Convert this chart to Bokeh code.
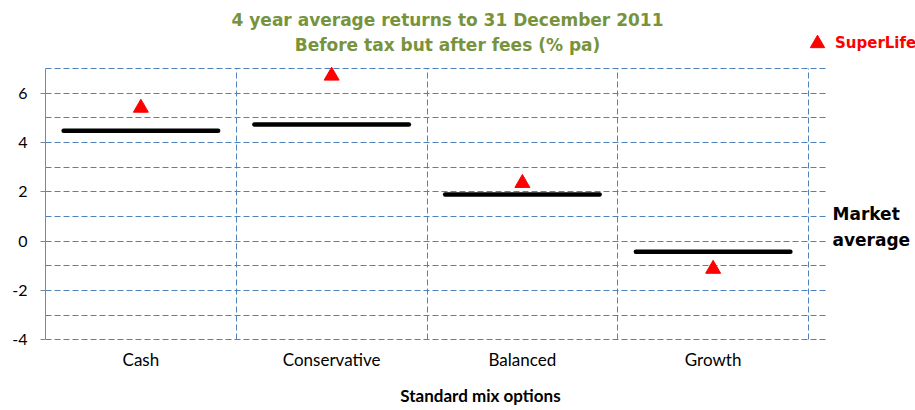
from bokeh.plotting import figure
from bokeh.models import (Range1d, FixedTicker, Legend, LegendItem, Label,
                          ColumnDataSource, Grid, BoxAnnotation)
from bokeh.embed import file_html
from bokeh.resources import INLINE

# ---- data ----
categories = ["Cash", "Conservative", "Balanced", "Growth"]
market_average = [4.47, 4.73, 1.89, -0.43]
superlife = [5.4, 6.7, 2.35, -1.13]
y_tick_values = [-4, -2, 0, 2, 4, 6]
y_grid_values = [-4, -3, -2, -1, 0, 1, 2, 3, 4, 5, 6, 7]
title_lines = ["4 year average returns to 31 December 2011",
               "Before tax but after fees (% pa)"]

idx = list(range(len(categories)))
centers = [i + 0.5 for i in idx]
half = 0.405
src = ColumnDataSource(dict(
    x=centers,
    x0=[c - half for c in centers],
    x1=[c + half for c in centers],
    avg=market_average,
    sl=superlife,
))

GREEN = "#77933C"
GRID = "#4F81BD"
AXIS_FONT = "Lato"
HEAD_FONT = "DejaVu Sans"

# layout: frame spans x 45..915 px and y 0..340 px
PX_X = 190.75          # pixels per category
PX_Y = 24.67           # pixels per y unit
Y0 = -4.03
x_end = 870 / PX_X
y_end = Y0 + 340 / PX_Y
grid_x_end = 783 / PX_X

p = figure(width=915, height=410, output_backend="svg", toolbar_location=None,
           x_range=Range1d(0, x_end), y_range=Range1d(Y0, y_end),
           min_border_left=45, min_border_right=0, min_border_top=0,
           min_border_bottom=70)
p.outline_line_color = None
p.background_fill_color = "white"
p.border_fill_color = "white"

# grid
p.xgrid.ticker = FixedTicker(ticks=[1, 2, 3, 4])
p.ygrid.ticker = FixedTicker(ticks=y_grid_values)
for g in (p.xgrid, p.ygrid):
    g.grid_line_color = GRID
    g.grid_line_dash = "6 3"
    g.grid_line_width = 1

if "cross_bounds" in Grid.properties():
    p.ygrid.cross_bounds = (0, grid_x_end)
    p.xgrid.cross_bounds = (-4, 7)
else:
    p.add_layout(BoxAnnotation(left=grid_x_end, fill_color="white", fill_alpha=1,
                               line_color=None, level="underlay"))
    p.add_layout(BoxAnnotation(bottom=7, fill_color="white", fill_alpha=1,
                               line_color=None, level="underlay"))

# y axis
ya = p.yaxis[0]
ya.ticker = FixedTicker(ticks=y_tick_values)
ya.bounds = (-4, 7)
ya.major_label_overrides = {v: str(v) for v in y_tick_values}
ya.axis_line_color = "#868686"
ya.major_tick_line_color = "#868686"
ya.major_tick_out = 5
ya.major_tick_in = 0
ya.minor_tick_line_color = None
ya.major_label_standoff = 13
ya.major_label_text_font = AXIS_FONT
ya.major_label_text_font_size = "16px"
ya.major_label_text_color = "black"

# x axis
xa = p.xaxis[0]
xa.ticker = FixedTicker(ticks=centers)
xa.major_label_overrides = {c: n for c, n in zip(centers, categories)}
xa.axis_line_color = None
xa.major_tick_line_color = None
xa.minor_tick_line_color = None
xa.major_tick_out = 0
xa.major_tick_in = 0
xa.major_label_standoff = 8
xa.major_label_text_font = AXIS_FONT
xa.major_label_text_font_size = "17px"
xa.major_label_text_line_height = 0.9
xa.major_label_text_color = "black"
xa.axis_label = "Standard mix options"
xa.axis_label_text_font = AXIS_FONT
xa.axis_label_text_font_style = "bold"
xa.axis_label_text_font_size = "17px"
xa.axis_label_text_line_height = 0.9
xa.axis_label_standoff = 12
xa.axis_label_text_color = "black"

# marks
p.segment(x0="x0", x1="x1", y0="avg", y1="avg", source=src,
          line_color="black", line_width=4.5, line_cap="round")
tri = p.scatter(x="x", y="sl", source=src, marker="triangle", size=15,
                fill_color="#FF0000", line_color="#FF0000")

# legend (SuperLife)
legend = Legend(items=[LegendItem(label="SuperLife", renderers=[tri])],
                location=(754, 279), orientation="horizontal",
                background_fill_alpha=0, border_line_color=None,
                padding=0, margin=0, glyph_width=36, glyph_height=36,
                label_standoff=0,
                label_text_color="#FF0000", label_text_font_style="bold",
                label_text_font=HEAD_FONT, label_text_font_size="15px")
p.add_layout(legend, "center")

# market average label
p.add_layout(Label(x=787, y=137, x_units="screen", y_units="screen",
                   text="Market\naverage", text_baseline="top",
                   text_font=HEAD_FONT, text_font_style="bold",
                   text_font_size="17px", text_color="black",
                   text_line_height=1.3))

# title (two centred lines)
for line, ypos in zip(title_lines, [321, 296]):
    p.add_layout(Label(x=402, y=ypos, x_units="screen", y_units="screen",
                       text=line, text_align="center", text_baseline="alphabetic",
                       text_color=GREEN, text_font=HEAD_FONT,
                       text_font_style="bold", text_font_size="17px"))

open("out.html", "w").write(file_html(p, INLINE))
